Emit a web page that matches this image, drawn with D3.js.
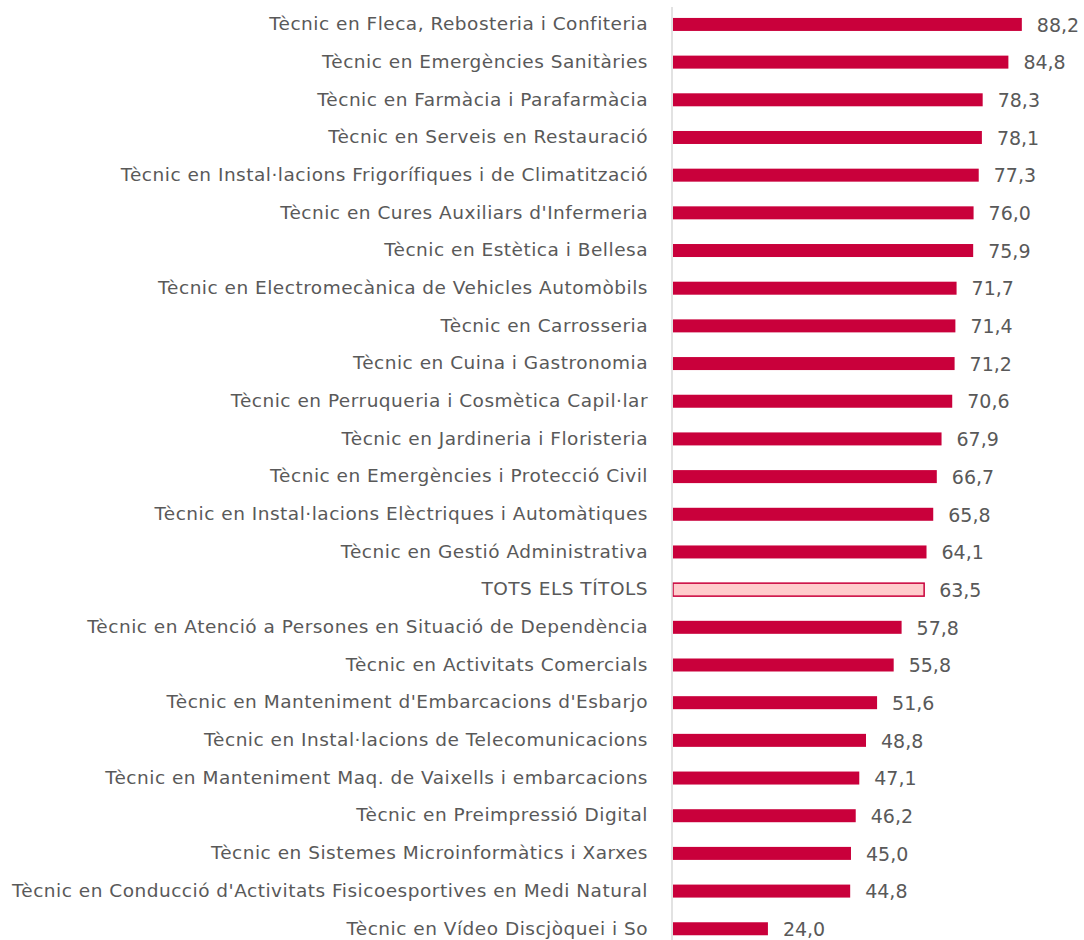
<!DOCTYPE html>
<html>
<head>
<meta charset="utf-8">
<script src="https://cdn.jsdelivr.net/npm/d3@7"></script>
<style>
  body { margin: 0; background: #fff; }
  svg text { font-family: "DejaVu Sans", sans-serif; fill: #595959; }
</style>
</head>
<body>
<div id="viz"></div>
<script>
const width = 1084;
const height = 940;

// Categories, top to bottom
const categories = [
  'Tècnic en Fleca, Rebosteria i Confiteria',
  'Tècnic en Emergències Sanitàries',
  'Tècnic en Farmàcia i Parafarmàcia',
  'Tècnic en Serveis en Restauració',
  'Tècnic en Instal·lacions Frigorífiques i de Climatització',
  'Tècnic en Cures Auxiliars d\'Infermeria',
  'Tècnic en Estètica i Bellesa',
  'Tècnic en Electromecànica de Vehicles Automòbils',
  'Tècnic en Carrosseria',
  'Tècnic en Cuina i Gastronomia',
  'Tècnic en Perruqueria i Cosmètica Capil·lar',
  'Tècnic en Jardineria i Floristeria',
  'Tècnic en Emergències i Protecció Civil',
  'Tècnic en Instal·lacions Elèctriques i Automàtiques',
  'Tècnic en Gestió Administrativa',
  'TOTS ELS TÍTOLS',
  'Tècnic en Atenció a Persones en Situació de Dependència',
  'Tècnic en Activitats Comercials',
  'Tècnic en Manteniment d\'Embarcacions d\'Esbarjo',
  'Tècnic en Instal·lacions de Telecomunicacions',
  'Tècnic en Manteniment Maq. de Vaixells i embarcacions',
  'Tècnic en Preimpressió Digital',
  'Tècnic en Sistemes Microinformàtics i Xarxes',
  'Tècnic en Conducció d\'Activitats Fisicoesportives en Medi Natural',
  'Tècnic en Vídeo Discjòquei i So'
];

const values = [
  88.2, 84.8, 78.3, 78.1, 77.3, 76.0, 75.9, 71.7, 71.4, 71.2, 70.6, 67.9, 66.7,
  65.8, 64.1, 63.5, 57.8, 55.8, 51.6, 48.8, 47.1, 46.2, 45.0, 44.8, 24.0
];

const totalLabel = 'TOTS ELS TÍTOLS';

const data = categories.map((c, i) => ({ category: c, value: values[i] }));

const fmt = v => d3.format('.1f')(v).replace('.', ',');

// Scales
const scaleX = d3.scaleLinear()
  .domain([0, 90])
  .range([673, 673 + 90 * 3.955]);

const scaleY = d3.scaleBand()
  .domain(categories)
  .range([5.6, 947.6])
  .paddingInner(0.655)
  .paddingOuter(0.3275);

const svg = d3.select('#viz')
  .append('svg')
    .attr('viewBox', [0, 0, width, height])
    .attr('width', width)
    .attr('height', height);

// Bars
svg.append('g')
  .selectAll('rect')
  .data(data)
  .join('rect')
    .attr('x', scaleX(0))
    .attr('y', d => scaleY(d.category))
    .attr('width', d => scaleX(d.value) - scaleX(0))
    .attr('height', scaleY.bandwidth())
    .attr('fill', d => d.category === totalLabel ? '#FFCCCC' : '#C9003B')
    .attr('stroke', d => d.category === totalLabel ? '#C9003B' : 'none')
    .attr('stroke-width', 1.5);

// Vertical axis line + category labels
const axisLeft = d3.axisLeft(scaleY).tickSize(0).tickPadding(24);
const yAxis = svg.append('g')
    .attr('transform', `translate(672,0)`)
    .call(axisLeft);
yAxis.select('.domain')
  .attr('d', 'M0,7V940')
  .attr('stroke', '#D9D9D9')
  .attr('stroke-width', 1.5);
yAxis.selectAll('text')
  .attr('font-size', 18.5)
  .attr('dy', '0.31em')
  .style('letter-spacing', '0.5px')
  .style('font-family', '"DejaVu Sans", sans-serif')
  .attr('fill', '#595959');

// Value labels
svg.append('g')
  .selectAll('text')
  .data(data)
  .join('text')
    .attr('x', d => scaleX(d.value) + 15)
    .attr('y', d => scaleY(d.category) + scaleY.bandwidth() / 2)
    .attr('dy', '0.38em')
    .attr('font-size', 19)
    .text(d => fmt(d.value));
</script>
</body>
</html>
